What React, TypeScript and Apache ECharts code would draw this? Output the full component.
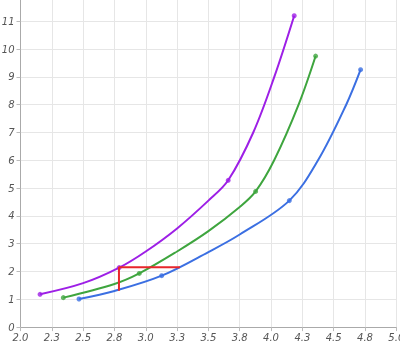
import React, { useEffect, useRef } from "react";
import * as echarts from "echarts";

// Curve samples
const purpleX = [2.156, 2.5, 2.788, 3.0, 3.25, 3.5, 3.658, 3.858, 4.026, 4.185];
const purpleY = [1.18, 1.58, 2.14, 2.72, 3.55, 4.55, 5.28, 7.0, 9.0, 11.2];
const greenX = [2.342, 2.75, 2.948, 3.25, 3.5, 3.75, 3.877, 4.025, 4.22, 4.356];
const greenY = [1.06, 1.55, 1.93, 2.72, 3.45, 4.32, 4.88, 6.0, 8.0, 9.75];
const blueX = [2.467, 2.75, 3.127, 3.5, 3.75, 4.146, 4.375, 4.6, 4.715];
const blueY = [1.01, 1.3, 1.85, 2.7, 3.33, 4.55, 6.0, 8.0, 9.26];

// Marked points
const purpleDotsX = [2.156, 2.788, 3.658, 4.185];
const purpleDotsY = [1.18, 2.14, 5.28, 11.2];
const greenDotsX = [2.342, 2.948, 3.877, 4.356];
const greenDotsY = [1.06, 1.93, 4.88, 9.75];
const blueDotsX = [2.467, 3.127, 4.146, 4.715];
const blueDotsY = [1.01, 1.85, 4.55, 9.26];

// Red guide
const redX = [2.786, 2.786, 3.273];
const redY = [1.31, 2.15, 2.15];

const xMin = 2, xMax = 5, xStep = 0.25;
const yMin = 0, yMax = 12, yStep = 1;

const zip = (xs: number[], ys: number[]) => xs.map((x, i) => [x, ys[i]]);

const PURPLE = "#9d1fe6";
const GREEN = "#3ea53e";
const BLUE = "#3b6fe2";
const RED = "#e8262b";

export default function App() {
  const ref = useRef<HTMLDivElement>(null);
  useEffect(() => {
    document.body.style.margin = "0";
    const chart = echarts.init(ref.current!, undefined, { renderer: "svg" });
    const labelStyle = { color: "#555", fontSize: 10, fontStyle: "italic" as const, fontFamily: "DejaVu Sans" };
    const lineSeries = (xs: number[], ys: number[], color: string) => ({
      type: "line",
      data: zip(xs, ys),
      smooth: 0.35,
      showSymbol: false,
      lineStyle: { color, width: 2 },
      itemStyle: { color },
    });
    const dotSeries = (xs: number[], ys: number[], color: string) => ({
      type: "scatter",
      data: zip(xs, ys),
      symbolSize: 5,
      itemStyle: { color },
    });
    chart.setOption({
      animation: false,
      grid: { left: 20.5, right: 3.7, top: 0.5, bottom: 17.9, containLabel: false, outerBoundsMode: "none" },
      xAxis: {
        type: "value",
        min: xMin,
        max: xMax,
        interval: xStep,
        axisLine: { show: true, lineStyle: { color: "#aaa" } },
        axisTick: { show: true, length: 4, lineStyle: { color: "#bbb" } },
        splitLine: { show: true, lineStyle: { color: "#e6e6e6" } },
        axisLabel: { ...labelStyle, margin: 5, formatter: (v: number) => v.toFixed(1) },
      },
      yAxis: {
        type: "value",
        min: yMin,
        max: yMax,
        interval: yStep,
        axisLine: { show: true, lineStyle: { color: "#aaa" } },
        axisTick: { show: true, length: 4, lineStyle: { color: "#bbb" } },
        splitLine: { show: true, lineStyle: { color: "#e6e6e6" } },
        axisLabel: { ...labelStyle, margin: 6, showMaxLabel: false },
      },
      series: [
        lineSeries(purpleX, purpleY, PURPLE),
        lineSeries(greenX, greenY, GREEN),
        lineSeries(blueX, blueY, BLUE),
        {
          type: "line",
          data: zip(redX, redY),
          showSymbol: false,
          lineStyle: { color: RED, width: 2 },
          itemStyle: { color: RED },
        },
        dotSeries(purpleDotsX, purpleDotsY, PURPLE),
        dotSeries(greenDotsX, greenDotsY, GREEN),
        dotSeries(blueDotsX, blueDotsY, BLUE),
      ],
    });
    return () => chart.dispose();
  }, []);
  return <div ref={ref} style={{ position: "fixed", left: 0, top: -7, width: 400, height: 352 }} />;
}
